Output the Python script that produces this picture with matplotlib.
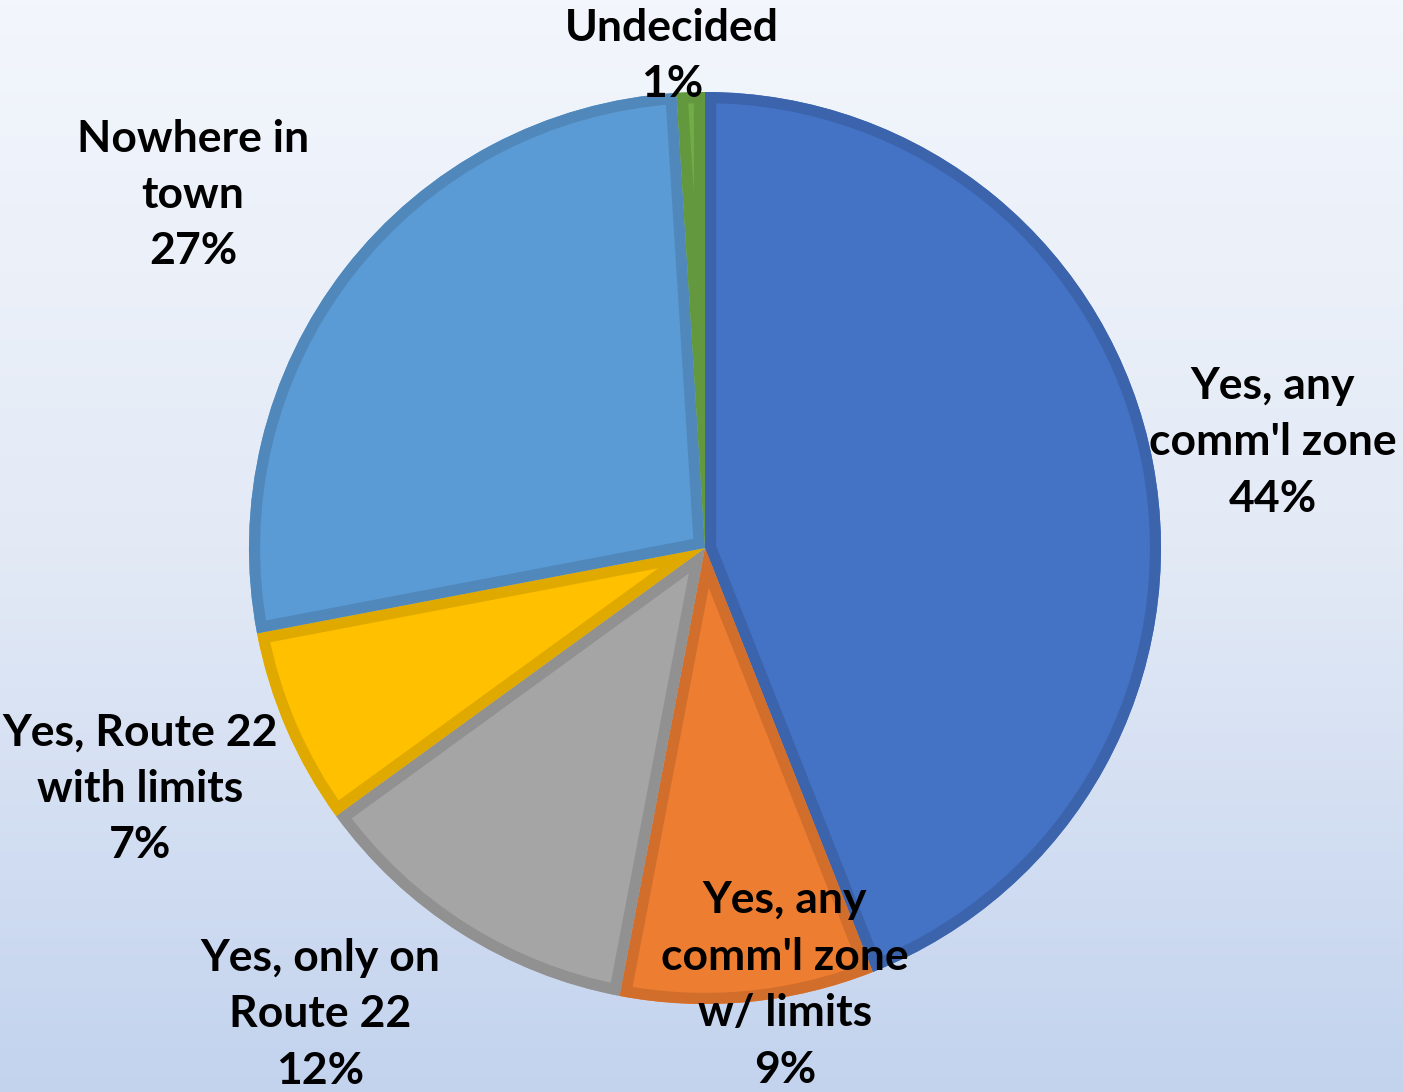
import numpy as np
import matplotlib.pyplot as plt
import matplotlib.colors as mcolors
from matplotlib.patches import Wedge

# data
labels = ["Yes, any\ncomm'l zone", "Yes, any\ncomm'l zone\nw/ limits", "Yes, only on\nRoute 22",
          "Yes, Route 22\nwith limits", "Nowhere in\ntown", "Undecided"]
values = [44, 9, 12, 7, 27, 1]
colors = ["#4472C4", "#ED7D31", "#A5A5A5", "#FFC000", "#5B9BD5", "#70AD47"]

# label spots in pixel coords (x, y from top)
label_pos = [(1273, 442), (785, 985), (320, 1014), (140, 789), (193, 195), (672, 56)]

W, H = 1403, 1092
fig = plt.figure(figsize=(W / 100, H / 100), dpi=100)
ax = fig.add_axes([0, 0, 1, 1])

# background gradient
grad = np.linspace(0, 1, 256).reshape(-1, 1)
cmap = mcolors.LinearSegmentedColormap.from_list('bg', ["#F3F6FC", "#E3EAF6", "#C3D3EE"])
ax.imshow(grad, cmap=cmap, extent=[0, W, 0, H], origin='upper', aspect='auto', zorder=0)

cx, cy, r = 705, H - 548, 456
wedges, _ = ax.pie(values, colors=colors, startangle=90, counterclock=False,
                   center=(cx, cy), radius=r, frame=True,
                   wedgeprops=dict(linewidth=0))
# darker border drawn on the inside of each slice
for w, c in zip(wedges, colors):
    w.set_zorder(2)
    dark = tuple(v * 0.88 for v in mcolors.to_rgb(c))
    b = Wedge(w.center, w.r, w.theta1, w.theta2, facecolor='none', edgecolor=dark,
              linewidth=16, joinstyle='round', zorder=3)
    ax.add_patch(b)
    b.set_clip_path(w)

ax.set_xlim(0, W)
ax.set_ylim(0, H)
ax.set_aspect('equal')
ax.axis('off')

for lab, v, (px, py) in zip(labels, values, label_pos):
    ax.text(px, H - py, f"{lab}\n{v}%", ha='center', va='center', fontsize=32,
            fontweight='bold', family='Lato', linespacing=1.5, color='black', zorder=5)

fig.savefig('out.png', dpi=100)
